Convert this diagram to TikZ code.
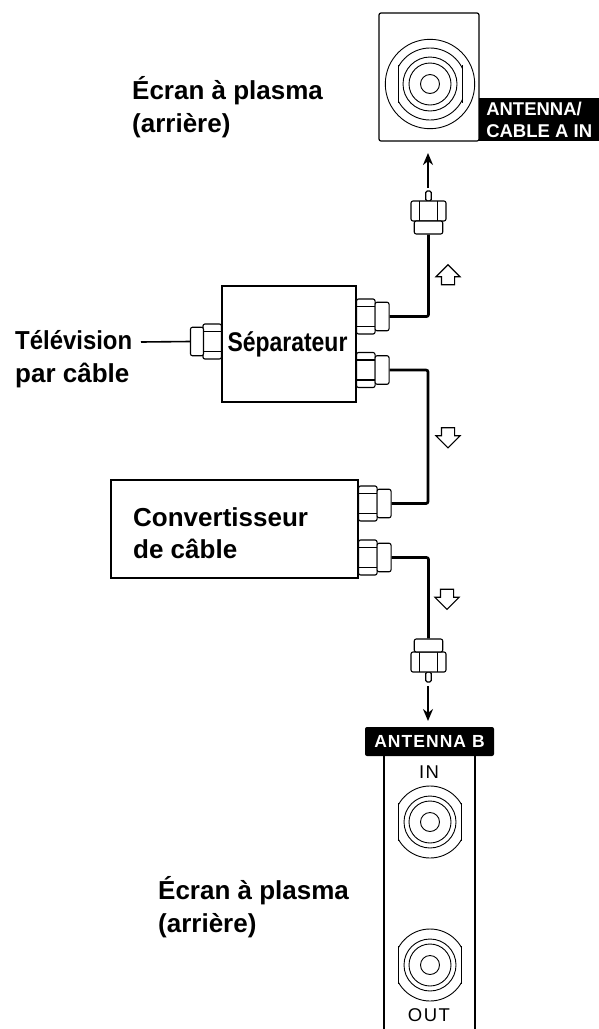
\documentclass[tikz,border=0pt]{standalone}
\usepackage{fontspec}
\setmainfont{Liberation Sans}
\usetikzlibrary{arrows.meta, positioning, shapes.arrows}

\begin{document}
\begin{tikzpicture}[
    x=1pt, y=-1pt,
    deviceBox/.style={rectangle, draw=black, line width=2.8pt, fill=white, inner sep=0pt},
    panelBox/.style={rectangle, draw=black, line width=1.2pt, rounded corners=2pt, fill=white, inner sep=0pt},
    tagBox/.style={rectangle, fill=black, text=white, inner sep=0pt, align=left, font=\bfseries\fontsize{18.5}{22.5}\selectfont},
    hexNode/.style={rectangle, draw=black, line width=1.1pt, rounded corners=2pt, fill=white, inner sep=0pt},
    bigLabel/.style={align=left, anchor=west, inner sep=0pt, font=\bfseries\fontsize{26}{32.5}\selectfont},
    smallLabel/.style={inner sep=0pt, font=\addfontfeature{LetterSpace=8}\fontsize{18.5}{20}\selectfont},
    cable/.style={black, line width=2.7pt, rounded corners=2pt},
    thinCable/.style={black, line width=1.6pt},
    plugLine/.style={black, line width=1.1pt},
    jackLine/.style={black, line width=0.9pt},
    signalArrow/.style={-{Stealth[length=12pt,width=10pt]}, black, line width=2.2pt},
    flowArrow/.style={single arrow, draw=black, line width=1.1pt, fill=white, inner xsep=0pt, inner ysep=6pt,
        minimum height=20pt, single arrow head extend=5.5pt, single arrow head indent=0pt}
]
    \useasboundingbox (0,0) rectangle (599,1029);

    % Screen panels
    \node[panelBox, minimum width=100pt, minimum height=128pt] (topPanel) at (429,77) {};
    \node[tagBox, inner xsep=7pt, minimum width=120pt, minimum height=43pt, anchor=north west] (topTag) at (479,98)
        {ANTENNA/\\CABLE A IN};
    \draw[panelBox] (384,756) -- (384,1029);
    \draw[panelBox] (475,756) -- (475,1029);
    \node[tagBox, rounded corners=2pt, minimum width=129pt, minimum height=29pt] (lowTag) at (429.5,741.5)
        {\addfontfeature{LetterSpace=6}\fontsize{17.5}{20}\selectfont ANTENNA B};
    \node[smallLabel] (inLabel) at (429,772) {IN};
    \node[smallLabel] (outLabel) at (429,1015) {OUT};

    % Jacks
    \draw[jackLine] (430,84) circle (44.7);
    \foreach \jackX/\jackY/\jackA/\jackB/\jackC/\jackD in {430/84/36/32/27/21, 430/822/36/31.5/26/21, 430/965/36/31.5/26/21} {
        \begin{scope}
            \clip (\jackX-\jackB,\jackY-50) rectangle (\jackX+\jackB,\jackY+50);
            \draw[jackLine] (\jackX,\jackY) circle (\jackA);
        \end{scope}
        \draw[jackLine] (\jackX-\jackB,\jackY-19) -- (\jackX-\jackB,\jackY+19);
        \draw[jackLine] (\jackX+\jackB,\jackY-19) -- (\jackX+\jackB,\jackY+19);
        \draw[jackLine] (\jackX,\jackY) circle (\jackC);
        \draw[jackLine] (\jackX,\jackY) circle (\jackD);
        \draw[jackLine] (\jackX,\jackY) circle (9.5);
    }

    % Devices
    \node[deviceBox, minimum width=134pt, minimum height=116pt] (splitter) at (289,344) {};
    \node[inner sep=0pt, font=\bfseries\fontsize{27}{29}\selectfont] (splitterText) at (287.5,344) {\scalebox{0.85}[1]{Séparateur}};
    \node[deviceBox, minimum width=247pt, minimum height=98pt] (converter) at (234.5,529) {};
    \node[bigLabel] (converterText) at (133,533) {Convertisseur\\de câble};

    % Texts
    \node[bigLabel] (screenTop) at (132,107) {Écran à plasma\\(arrière)};
    \node[bigLabel] (tvText) at (15,359) {\scalebox{0.92}[1]{Télévision}\\par câble};
    \node[bigLabel] (screenLow) at (158,907) {Écran à plasma\\(arrière)};

    % Side connectors
    \foreach \plugName/\plugX/\plugY in {sepA/356/316.5, sepB/356/370, conA/358/503.5, conB/358/557.5} {
        \node[hexNode, minimum width=18.5pt, minimum height=35pt, anchor=west] (\plugName Hex) at (\plugX,\plugY) {};
        \node[hexNode, minimum width=14pt, minimum height=28.5pt, anchor=west] (\plugName) at (\plugX+18.5,\plugY) {};
        \draw[plugLine] (\plugX,\plugY-10) -- (\plugX+18.5,\plugY-10);
        \draw[plugLine] (\plugX,\plugY+10) -- (\plugX+18.5,\plugY+10);
    }
    \node[hexNode, minimum width=18.5pt, minimum height=35pt, anchor=east] (inHex) at (222,341.5) {};
    \node[hexNode, minimum width=13pt, minimum height=28.5pt, anchor=east] (inPlug) at (204,341.5) {};
    \draw[plugLine] (203.5,331.5) -- (222,331.5);
    \draw[plugLine] (203.5,351.5) -- (222,351.5);

    % Free plugs
    \foreach \plugName/\plugY/\plugDir in {topPlug/211/1, lowPlug/662/-1} {
        \node[hexNode, rounded corners=1.5pt, minimum width=5.5pt, minimum height=10pt] (\plugName Pin) at (428.5,\plugY-\plugDir*15) {};
        \node[hexNode, minimum width=35pt, minimum height=20pt] (\plugName Hex) at (428.5,\plugY) {};
        \draw[plugLine] (419.5,\plugY-10) -- (419.5,\plugY+10);
        \draw[plugLine] (437.5,\plugY-10) -- (437.5,\plugY+10);
        \node[hexNode, minimum width=28.5pt, minimum height=13pt] (\plugName) at (428.5,\plugY+\plugDir*16.5) {};
    }

    % Cables
    \coordinate (tvEnd) at (141,342);
    \draw[thinCable] (tvEnd) -- (inPlug.west);
    \draw[cable] (sepA.east) -| (topPlug.south);
    \draw[cable] (sepB.east) -| (428,420) |- (conA.east);
    \draw[cable] (conB.east) -| (lowPlug.north);

    % Arrows to the screens
    \coordinate (topTail) at (428,188);
    \coordinate (topTip) at (428,153);
    \coordinate (lowTail) at (428,686);
    \coordinate (lowTip) at (428,721);
    \draw[signalArrow] (topTail) -- (topTip);
    \draw[signalArrow] (lowTail) -- (lowTip);

    % Flow direction
    \node[flowArrow, rotate=90] (flowUp) at (448,278) {};
    \node[flowArrow, rotate=-90] (flowMid) at (448,434.5) {};
    \node[flowArrow, rotate=-90] (flowLow) at (447,596) {};
\end{tikzpicture}
\end{document}
